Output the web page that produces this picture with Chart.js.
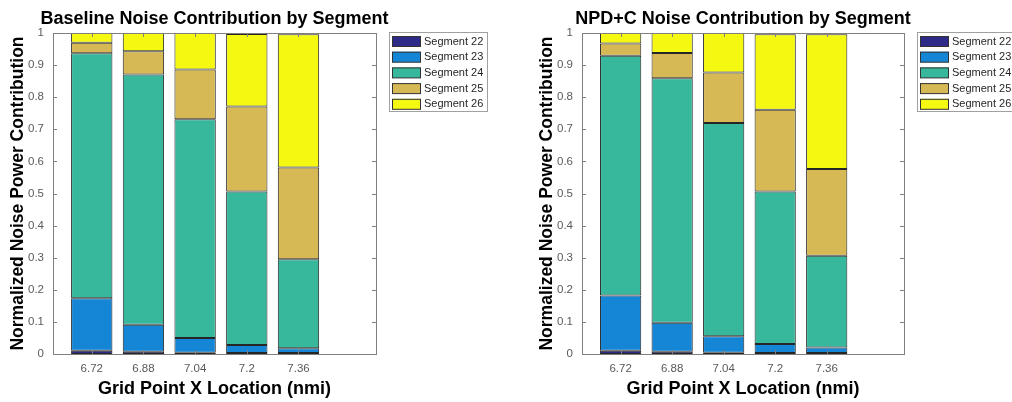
<!DOCTYPE html>
<html>
<head>
<meta charset="utf-8">
<script src="https://cdn.jsdelivr.net/npm/chart.js@4.4.1/dist/chart.umd.min.js"></script>
<style>
  html, body { margin: 0; padding: 0; background: #fff; }
  body { width: 1012px; height: 402px; position: relative; overflow: hidden; }
  canvas { position: absolute; top: 0; }
  #baselineChart { left: 0; }
  #npdChart { left: 506px; }
</style>
</head>
<body>
<canvas id="baselineChart" width="506" height="402"></canvas>
<canvas id="npdChart" width="506" height="402"></canvas>
<script>
// grid point x locations (nmi)
const xLocations = [6.72, 6.88, 7.04, 7.2, 7.36];
const segmentNames = ['Segment 22', 'Segment 23', 'Segment 24', 'Segment 25', 'Segment 26'];
const segmentColors = ['#2e2a87', '#1585d5', '#37b89d', '#d6b955', '#f5f810'];
const yTickValues = [0, 0.1, 0.2, 0.3, 0.4, 0.5, 0.6, 0.7, 0.8, 0.9, 1];

// baseline: normalized noise power per segment (stacked)
const baselineSeg22 = [0.010, 0.007, 0.004, 0.003, 0.003];
const baselineSeg23 = [0.164, 0.084, 0.046, 0.025, 0.015];
const baselineSeg24 = [0.763, 0.780, 0.681, 0.478, 0.277];
const baselineSeg25 = [0.033, 0.072, 0.155, 0.265, 0.286];
const baselineSeg26 = [0.030, 0.057, 0.114, 0.226, 0.415];

// NPD+C: normalized noise power per segment (stacked)
const npdSeg22 = [0.010, 0.007, 0.004, 0.003, 0.003];
const npdSeg23 = [0.172, 0.090, 0.051, 0.028, 0.017];
const npdSeg24 = [0.747, 0.762, 0.665, 0.475, 0.286];
const npdSeg25 = [0.038, 0.079, 0.157, 0.255, 0.270];
const npdSeg26 = [0.033, 0.062, 0.123, 0.235, 0.420];

const FONT = "'Liberation Sans', Arial, Helvetica, sans-serif";
const AXIS_GRAY = '#7f7f7f';

// matlab-style box with inward ticks
const axesBox = {
    id: 'axesBox',
    afterDatasetsDraw(chart) {
        const { ctx, chartArea: a, scales } = chart;
        ctx.save();
        ctx.strokeStyle = AXIS_GRAY;
        ctx.lineWidth = 1;
        ctx.beginPath();
        const tick = 4;
        scales.y.ticks.forEach(t => {
            const py = Math.round(scales.y.getPixelForValue(t.value)) + 0.5;
            ctx.moveTo(a.left, py); ctx.lineTo(a.left + tick, py);
            ctx.moveTo(a.right, py); ctx.lineTo(a.right - tick, py);
        });
        scales.x.ticks.forEach(t => {
            const px = Math.round(scales.x.getPixelForValue(t.value)) + 0.5;
            ctx.moveTo(px, a.top); ctx.lineTo(px, a.top + tick);
            ctx.moveTo(px, a.bottom); ctx.lineTo(px, a.bottom - tick);
        });
        ctx.stroke();
        ctx.strokeRect(Math.round(a.left) + 0.5, Math.round(a.top) + 0.5,
            Math.round(a.right - a.left), Math.round(a.bottom - a.top));
        ctx.restore();
    }
};

// axes title centred over the plot area, not squeezed to its width
const axesTitle = {
    id: 'axesTitle',
    afterDraw(chart, args, opts) {
        const { ctx, chartArea: a } = chart;
        ctx.save();
        ctx.font = 'bold 18px ' + FONT;
        ctx.fillStyle = '#000';
        ctx.textAlign = 'center';
        ctx.textBaseline = 'middle';
        ctx.fillText(opts.text, (a.left + a.right) / 2, 19);
        ctx.restore();
    }
};

// boxed legend to the right of the axes
const boxLegend = {
    id: 'boxLegend',
    afterDraw(chart) {
        const { ctx, chartArea: a } = chart;
        const left = Math.round(a.right) + 13;
        const top = 32;
        const rowH = 15.7;
        ctx.save();
        ctx.fillStyle = '#fff';
        ctx.fillRect(left, top, 98, 79);
        ctx.strokeStyle = '#a0a0a0';
        ctx.lineWidth = 1;
        ctx.strokeRect(left + 0.5, top + 0.5, 98, 79);
        ctx.font = '11px ' + FONT;
        ctx.textBaseline = 'middle';
        chart.data.datasets.forEach((ds, i) => {
            const y = top + 4 + i * rowH;
            ctx.fillStyle = ds.backgroundColor;
            ctx.fillRect(left + 3, y, 29, 10.5);
            ctx.strokeStyle = '#333';
            ctx.strokeRect(left + 3.5, y + 0.5, 28, 10);
            ctx.fillStyle = '#262626';
            ctx.fillText(ds.label, left + 35, y + 5.5);
        });
        ctx.restore();
    }
};

function makeChart(canvasId, title, segValues, padLeft, padRight) {
    const ctx = document.getElementById(canvasId).getContext('2d');
    return new Chart(ctx, {
        type: 'bar',
        data: {
            datasets: segmentNames.map((name, i) => ({
                label: name,
                data: xLocations.map((x, j) => ({ x: x, y: segValues[i][j] })),
                backgroundColor: segmentColors[i],
                borderColor: '#262626',
                borderWidth: 1,
                borderSkipped: false,
                barPercentage: 0.8,
                categoryPercentage: 1.0
            }))
        },
        options: {
            responsive: false,
            animation: false,
            layout: { padding: { left: padLeft, right: padRight, top: 33, bottom: 0 } },
            plugins: {
                legend: { display: false },
                tooltip: { enabled: false },
                title: { display: false },
                axesTitle: { text: title }
            },
            scales: {
                x: {
                    type: 'linear',
                    stacked: true,
                    offset: false,
                    min: 6.6,
                    max: 7.6,
                    afterBuildTicks: s => { s.ticks = xLocations.map(v => ({ value: v })); },
                    afterFit: s => { s.height = 48; },
                    grid: { display: false, drawTicks: false },
                    border: { display: false },
                    ticks: {
                        autoSkip: false,
                        maxRotation: 0,
                        padding: 8,
                        color: '#5a5a5a',
                        font: { family: FONT, size: 11.5 },
                        callback: v => String(v)
                    },
                    title: {
                        display: true,
                        text: 'Grid Point X Location (nmi)',
                        color: '#000',
                        font: { family: FONT, size: 18, weight: 'bold' },
                        padding: { top: 0, bottom: 2 }
                    }
                },
                y: {
                    stacked: true,
                    min: 0,
                    max: 1,
                    afterBuildTicks: s => { s.ticks = yTickValues.map(v => ({ value: v })); },
                    afterFit: s => { s.width = 53; },
                    grid: { display: false, drawTicks: false },
                    border: { display: false },
                    ticks: {
                        padding: 9,
                        color: '#5a5a5a',
                        font: { family: FONT, size: 11.5 },
                        callback: v => String(v)
                    },
                    title: {
                        display: true,
                        text: 'Normalized Noise Power Contribution',
                        color: '#000',
                        font: { family: FONT, size: 17.5, weight: 'bold' },
                        padding: { top: 8, bottom: 0 }
                    }
                }
            }
        },
        plugins: [axesBox, axesTitle, boxLegend]
    });
}

makeChart('baselineChart', 'Baseline Noise Contribution by Segment',
    [baselineSeg22, baselineSeg23, baselineSeg24, baselineSeg25, baselineSeg26], 0, 130);
makeChart('npdChart', 'NPD+C Noise Contribution by Segment',
    [npdSeg22, npdSeg23, npdSeg24, npdSeg25, npdSeg26], 23, 108);
</script>
</body>
</html>
